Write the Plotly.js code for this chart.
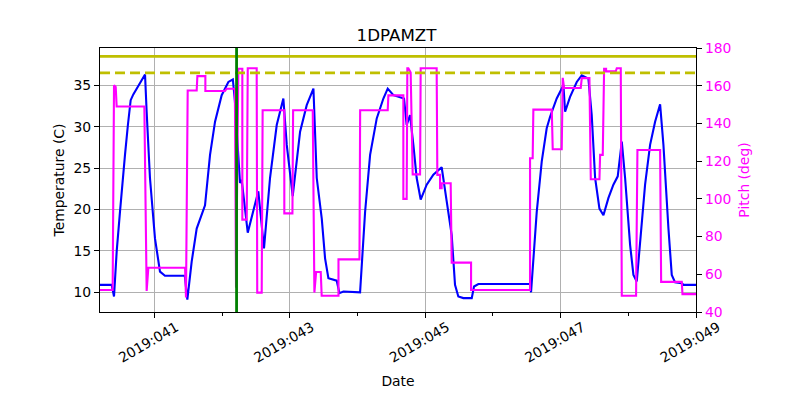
<!DOCTYPE html>
<html>
<head>
<meta charset="utf-8">
<script src="https://cdn.plot.ly/plotly-3.0.1.min.js"></script>
<style>html,body{margin:0;padding:0;background:#fff;}#chart{width:800px;height:400px;}</style>
</head>
<body>
<div id="chart"></div>
<script>
// Temperature (1DPAMZT) : day-of-year, degC
const tempDays = [40.198,40.37,40.405,40.445,40.493,40.53,40.567,40.61,40.651,40.69,40.74,40.80,40.863,40.887,40.936,41.01,41.05,41.084,41.158,41.45,41.488,41.552,41.626,41.749,41.823,41.897,41.995,42.094,42.16,42.19,42.266,42.29,42.38,42.536,42.62,42.709,42.808,42.906,42.956,43.044,43.153,43.251,43.35,43.399,43.473,43.522,43.571,43.694,43.734,43.793,44.039,44.113,44.187,44.285,44.383,44.447,44.531,44.63,44.688,44.727,44.777,44.826,44.875,44.934,45.023,45.121,45.244,45.318,45.392,45.441,45.49,45.564,45.688,45.722,45.786,46.549,46.564,46.648,46.722,46.795,46.845,46.943,47.042,47.067,47.14,47.239,47.313,47.411,47.46,47.51,47.574,47.633,47.707,47.78,47.844,47.904,47.953,48.027,48.076,48.125,48.174,48.248,48.322,48.396,48.47,48.519,48.593,48.642,48.691,48.79,48.815,49.011];
const tempVals = [10.9,10.9,9.5,15.0,19.7,23.5,26.6,30.2,33.2,33.9,34.6,35.5,36.3,31.8,23.8,16.5,14.0,12.5,12.0,12.0,9.1,13.7,17.7,20.5,26.6,30.6,33.8,35.4,35.7,33.1,23.2,23.6,17.2,22.2,15.3,23.8,30.2,33.4,27.8,21.6,29.4,32.6,34.6,23.8,18.9,14.1,11.7,11.4,9.9,10.1,10.0,19.7,26.6,31.0,33.4,34.6,33.8,33.5,33.4,30.2,31.4,27.8,23.8,21.2,23.0,24.2,25.1,21.0,16.9,10.9,9.5,9.3,9.3,10.7,11.0,11.0,10.0,19.7,25.8,29.8,31.2,33.4,35.0,31.8,33.6,35.4,36.2,35.8,31.4,23.8,20.1,19.3,21.4,23.0,24.0,28.2,23.8,15.7,12.1,11.3,15.7,23.0,27.8,30.6,32.7,27.8,17.7,12.1,11.2,11.1,10.9,10.9];

// Pitch : day-of-year, deg
const pitchDays = [40.198,40.385,40.405,40.43,40.444,40.853,40.887,40.912,41.454,41.468,41.493,41.626,41.636,41.754,41.754,42.044,42.069,42.19,42.207,42.241,42.30,42.30,42.365,42.38,42.512,42.52,42.586,42.60,42.92,42.92,43.04,43.05,43.34,43.364,43.39,43.458,43.472,43.72,43.72,44.03,44.04,44.447,44.457,44.678,44.678,44.727,44.737,44.752,44.786,44.816,44.925,44.934,45.17,45.18,45.22,45.22,45.244,45.244,45.377,45.392,45.678,45.678,46.549,46.549,46.588,46.598,46.87,46.884,47.017,47.032,47.052,47.298,47.313,47.426,47.446,47.574,47.584,47.623,47.643,47.672,47.672,47.815,47.83,47.889,47.904,48.115,48.135,48.47,48.485,48.79,48.8,49.011];
const pitchVals = [51.7,51.7,160.2,159.3,149,149,51.2,63.5,63.5,47.7,157.5,157.5,165.1,165.1,157.2,157.2,158.4,158.4,52.9,169,169,89,89,169.3,169.3,50.3,50.3,147,147,92.3,92.3,147,147,50.3,61.2,61.2,48.6,48.6,67.9,67.9,147,147,154.9,154.9,100,100,169.3,169.3,167,113,113,169.3,169.3,112.7,112.7,105.7,105.7,108.3,108.3,66.2,66.2,51.7,51.7,121.5,121.5,147.3,147.3,126.3,126.3,164.2,158.8,158.8,164,164,110.4,110.4,123.3,123.3,169,169,167.6,167.6,169.3,169.3,48.6,48.6,125.9,125.9,56,56,49.5,49.5];

// Tick labels
const xTickDays = [41,43,45,47,49];
const xTickLabels = ['2019:041','2019:043','2019:045','2019:047','2019:049'];

// Reference lines
const planningLimit = 36.5;   // dashed
const cautionLimit = 38.5;    // solid
const markerDay = 42.215;     // green vertical line

const font = 'DejaVu Sans, Liberation Sans, sans-serif';
const fs = 13.9;

const traces = [
  {x: tempDays, y: tempVals, type: 'scatter', mode: 'lines', line: {color: '#0000ff', width: 2.1}, yaxis: 'y', hoverinfo: 'skip'},
  {x: pitchDays, y: pitchVals, type: 'scatter', mode: 'lines', line: {color: '#ff00ff', width: 2.1}, yaxis: 'y2', hoverinfo: 'skip'}
];

const layout = {
  width: 800, height: 400,
  margin: {l: 100, r: 104, t: 48, b: 88, pad: 0},
  paper_bgcolor: '#ffffff', plot_bgcolor: '#ffffff',
  showlegend: false,
  font: {family: font, size: fs, color: '#000'},
  title: {text: '1DPAMZT', font: {family: font, size: 16.7, color: '#000'}, x: 0.4975, xanchor: 'center', y: 1 - 35/400, yanchor: 'middle', xref: 'paper', yref: 'container'},
  xaxis: {
    range: [40.198, 49.0],
    tickmode: 'array', tickvals: xTickDays, ticktext: xTickLabels,
    tickangle: -30, ticks: 'outside', ticklen: 5, tickwidth: 1, tickcolor: '#000',
    ticklabelshift: 22, ticklabelstandoff: -4,
    minor: {tickmode: 'linear', tick0: 41, dtick: 1, ticks: 'outside', ticklen: 2.5, tickcolor: '#000', showgrid: false},
    showgrid: true, gridcolor: '#b0b0b0', gridwidth: 1,
    showline: true, linecolor: '#000', linewidth: 1.1, mirror: true,
    zeroline: false, automargin: false,
    title: {text: 'Date', font: {family: font, size: fs}, standoff: 11}
  },
  yaxis: {
    range: [7.62, 39.5], tick0: 0, dtick: 5,
    ticks: 'outside', ticklen: 5, tickwidth: 1, tickcolor: '#000',
    showgrid: true, gridcolor: '#b0b0b0', gridwidth: 1,
    showline: true, linecolor: '#000', linewidth: 1.1,
    zeroline: false, automargin: false,
    title: {text: 'Temperature (C)', font: {family: font, size: fs}, standoff: 5}
  },
  yaxis2: {
    overlaying: 'y', side: 'right', anchor: 'x',
    range: [40, 180], tick0: 0, dtick: 20,
    ticks: 'outside', ticklen: 5, tickwidth: 1, tickcolor: '#000',
    tickfont: {color: '#ff00ff', family: font, size: fs},
    showgrid: false, showline: true, linecolor: '#000', linewidth: 1.1,
    zeroline: false, automargin: false,
    title: {text: 'Pitch (deg)', font: {family: font, size: fs, color: '#ff00ff'}, standoff: 8}
  },
  shapes: [
    {type: 'line', xref: 'paper', x0: 0, x1: 1, yref: 'y', y0: cautionLimit, y1: cautionLimit, line: {color: '#bfbf00', width: 2.8}, layer: 'above'},
    {type: 'line', xref: 'paper', x0: 0, x1: 1, yref: 'y', y0: planningLimit, y1: planningLimit, line: {color: '#bfbf00', width: 2.8, dash: '10px,5px'}, layer: 'above'},
    {type: 'line', xref: 'x', x0: markerDay, x1: markerDay, yref: 'paper', y0: 0, y1: 1, line: {color: '#008000', width: 2.8}, layer: 'above'}
  ]
};

Plotly.newPlot('chart', traces, layout, {displayModeBar: false, staticPlot: true});
</script>
</body>
</html>
